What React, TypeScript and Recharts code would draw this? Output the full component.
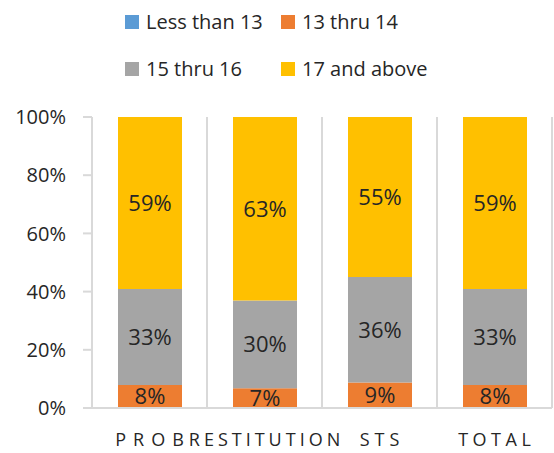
import React from 'react'
import { BarChart, Bar, XAxis, YAxis, CartesianGrid, LabelList } from 'recharts'

const categories = ['PROB', 'RESTITUTION', 'STS', 'TOTAL']
const lessThan13 = [0, 0, 0, 0]
const thru14 = [7.9, 6.8, 8.8, 7.9]
const thru16 = [33, 30.1, 36.2, 33]
const above17 = [59.1, 63.1, 55, 59.1]
const yTicks = [0, 20, 40, 60, 80, 100]

const series = [
  { key: 'lt13', name: 'Less than 13', color: '#5B9BD5', label: false },
  { key: 't14', name: '13 thru 14', color: '#ED7D31', label: true },
  { key: 't16', name: '15 thru 16', color: '#A5A5A5', label: true },
  { key: 'a17', name: '17 and above', color: '#FFC000', label: true },
]

const data = categories.map((c, i) => ({
  cat: c,
  lt13: lessThan13[i],
  t14: thru14[i],
  t16: thru16[i],
  a17: above17[i],
}))

const FONT = '"Open Sans", "Noto Sans", sans-serif'
const TEXT = '#262626'
const GRID = '#d9d9d9'

// Excel spreads the short label a bit wider than the others
const spacing: Record<string, number> = { PROB: 7, RESTITUTION: 4, STS: 5, TOTAL: 4.5 }

function CatTick({ x, y, payload }: any) {
  const s = spacing[payload.value] ?? 4
  return (
    <text x={x + s / 2} y={y + 38} textAnchor="middle" fontSize={18} fill={TEXT} letterSpacing={s}>
      {payload.value}
    </text>
  )
}

function LegendBox() {
  const rows = [series.slice(0, 2), series.slice(2, 4)]
  return (
    <div style={{ position: 'absolute', left: 125, top: 5, fontSize: 20, color: TEXT, lineHeight: '34px' }}>
      {rows.map((r, ri) => (
        <div key={ri} style={{ display: 'flex', marginBottom: ri === 0 ? 13 : 0 }}>
          {r.map(s => (
            <div key={s.key} style={{ display: 'flex', alignItems: 'center', width: 156 }}>
              <span style={{ display: 'inline-block', width: 14, height: 14, background: s.color, marginRight: 7 }} />
              {s.name}
            </div>
          ))}
        </div>
      ))}
    </div>
  )
}

export default function App() {
  return (
    <div style={{ position: 'absolute', left: 0, top: 0, width: 554, height: 453, background: '#fff', fontFamily: FONT }}>
      <LegendBox />
      <BarChart
        width={554}
        height={453}
        data={data}
        barSize={64}
        margin={{ top: 117, right: 2, bottom: 15, left: 0 }}
      >
        <CartesianGrid
          horizontal={false}
          stroke={GRID}
          strokeWidth={2}
          verticalCoordinatesGenerator={({ offset }: any) =>
            categories.map((_, i) => offset.left + ((i + 1) * offset.width) / categories.length)
          }
        />
        <XAxis
          dataKey="cat"
          height={30}
          axisLine={{ stroke: GRID, strokeWidth: 2 }}
          tickLine={false}
          tickSize={0}
          tickMargin={0}
          tick={<CatTick />}
          interval={0}
        />
        <YAxis
          domain={[0, 100]}
          ticks={yTicks}
          width={92}
          tickFormatter={v => `${v}%`}
          axisLine={{ stroke: GRID, strokeWidth: 2 }}
          tickLine={{ stroke: GRID, strokeWidth: 2 }}
          tickSize={9}
          tickMargin={17}
          tick={{ fontSize: 20, fill: TEXT }}
        />
        {series.map(s => (
          <Bar key={s.key} dataKey={s.key} name={s.name} stackId="a" fill={s.color} isAnimationActive={false}>
            {s.label && (
              <LabelList
                dataKey={s.key}
                position="center"
                formatter={(v: any) => `${Math.round(v)}%`}
                fontSize={22}
                fill={TEXT}
              />
            )}
          </Bar>
        ))}
      </BarChart>
    </div>
  )
}
